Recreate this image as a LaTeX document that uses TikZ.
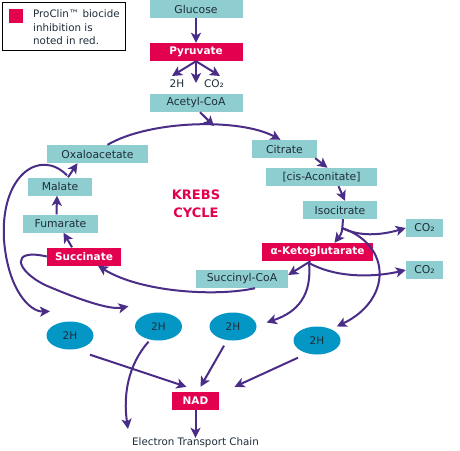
\documentclass[tikz,border=0pt]{standalone}
\usepackage{fontspec}
\setmainfont{DejaVu Sans}
\usetikzlibrary{arrows.meta,shapes.geometric}
\definecolor{tealbox}{HTML}{8ECED1}
\definecolor{redbox}{HTML}{E2004F}
\definecolor{bluell}{HTML}{0497C5}
\definecolor{arrowc}{HTML}{4A2D87}
\definecolor{boxtext}{HTML}{1E2D3A}
\begin{document}
\begin{tikzpicture}[x=1pt,y=-1pt,
  tbox/.style={rectangle,fill=tealbox,text=boxtext,inner sep=0pt,minimum height=18pt,font=\fontsize{10.8}{12}\selectfont},
  rbox/.style={rectangle,fill=redbox,text=white,inner sep=0pt,minimum height=18pt,font=\fontsize{10.5}{12}\selectfont\bfseries},
  hh/.style={ellipse,fill=bluell,text=boxtext,inner sep=0pt,minimum width=47pt,minimum height=28pt,font=\fontsize{10.5}{11}\selectfont},
  lbl/.style={text=boxtext,inner sep=0pt,font=\fontsize{10.5}{11}\selectfont},
  arr/.style={draw=arrowc,line width=2pt,-{Stealth[length=10pt,width=10pt,inset=2.5pt]}}]
\useasboundingbox (0,0) rectangle (460,450);
\fill[white] (0,0) rectangle (460,450);
% legend
\node[draw=black,line width=0.8pt,minimum width=123pt,minimum height=48pt,inner sep=0pt] (leg) at (63.5,26) {};
\node[fill=redbox,minimum size=14pt,inner sep=0pt] (legsq) at (16,16) {};
\node[anchor=north west,align=left,inner sep=0pt,text=boxtext,font=\fontsize{10.3}{13.5}\selectfont] (legtxt) at (33,9.5) {ProClin™ biocide\\inhibition is\\noted in red.};
% boxes
\node[tbox,minimum width=93pt] (glu) at (196,9) {Glucose};
\node[rbox,minimum width=93pt] (pyr) at (196,52) {Pyruvate};
\node[lbl] (h2a) at (177,84) {2H};
\node[lbl] (co2p) at (214,84) {CO₂};
\node[tbox,minimum width=93pt] (acc) at (196,103) {Acetyl-CoA};
\node[tbox,minimum width=101pt] (oxa) at (97.5,154) {Oxaloacetate};
\node[tbox,minimum width=65pt] (cit) at (284.5,149) {Citrate};
\node[tbox,minimum width=111pt] (cis) at (321.5,177) {[cis-Aconitate]};
\node[tbox,minimum width=74pt] (iso) at (340,210) {Isocitrate};
\node[tbox,minimum width=37pt] (co2a) at (424.5,228) {CO₂};
\node[rbox,minimum width=111pt] (akg) at (317.5,252) {α-Ketoglutarate};
\node[tbox,minimum width=37pt] (co2b) at (424.5,270) {CO₂};
\node[tbox,minimum width=92pt] (succoa) at (242,279) {Succinyl-CoA};
\node[rbox,minimum width=74pt] (succ) at (84,256.5) {Succinate};
\node[tbox,minimum width=75pt] (fum) at (60.5,223.5) {Fumarate};
\node[tbox,minimum width=64pt] (mal) at (60,186.5) {Malate};
\node[text=redbox,font=\fontsize{13}{17.5}\selectfont\bfseries,align=center,inner sep=0pt] (krebs) at (196,204) {KREBS\\CYCLE};
\node[hh] (h1) at (70,335.5) {2H};
\node[hh] (h2) at (158.5,326.5) {2H};
\node[hh] (h3) at (233,326.5) {2H};
\node[hh] (h4) at (317,340.5) {2H};
\node[rbox,minimum width=47pt] (nad) at (195.5,401) {NAD};
\node[text=boxtext,inner sep=0pt,font=\fontsize{10.3}{11}\selectfont] (etc) at (195.5,443) {Electron Transport Chain};
% free ends
\coordinate (p1) at (172,76);
\coordinate (p2) at (196,83);
\coordinate (p3) at (220,76);
\coordinate (arcpt) at (214,126);
\coordinate (isob) at (342,228);
\coordinate (akgb) at (309,263);
\coordinate (etcl) at (128,429);
% connectors
\draw[arr] (glu) -- (pyr);
\draw[arr] (pyr.south) -- (p1);
\draw[arr] (pyr.south) -- (p2);
\draw[arr] (pyr.south) -- (p3);
\draw[arr] ([xshift=4pt]acc.south) -- (arcpt);
\draw[arr] ([xshift=10pt]oxa.north) .. controls (150,120) and (240,118) .. ([xshift=-4pt]cit.north);
\draw[arr] ([xshift=-2pt]cit.south east) -- ([xshift=6pt]cis.north);
\draw[arr] ([xshift=17pt]cis.south) -- ([xshift=5pt]iso.north);
\draw[arr] ([xshift=3pt]iso.south) .. controls (342,233) .. ([xshift=17pt]akg.north);
\draw[arr] (isob) .. controls (362,238) and (385,234) .. (co2a.west);
\draw[arr] (isob) .. controls (392,245) and (392,300) .. ([xshift=3pt,yshift=4pt]h4.north east);
\draw[arr] ([xshift=-7pt]akg.south) -- ([yshift=4pt]succoa.east);
\draw[arr] (akgb) .. controls (340,280) and (380,276) .. (co2b.west);
\draw[arr] (akgb) .. controls (312,295) and (298,312) .. ([xshift=10pt,yshift=4pt]h3.east);
\draw[arr] ([xshift=13pt]succoa.south) .. controls (215,297) and (140,292) .. ([xshift=14pt]succ.south);
\draw[arr] ([xshift=-12pt]succ.north) -- ([xshift=3pt]fum.south);
\draw[arr] ([xshift=-4pt]fum.north) -- ([xshift=-3pt]mal.south);
\draw[arr] ([xshift=8pt]mal.north) -- ([xshift=-20pt]oxa.south);
\draw[arr] ([xshift=7pt,yshift=2pt]mal.north) .. controls (40,148) and (0,175) .. (4,240) .. controls (8,290) and (30,312) .. ([xshift=-20pt,yshift=10pt]h1.north);
\draw[arr] (succ.west) .. controls (10,248) and (15,270) .. (45,285) .. controls (80,300) and (110,310) .. ([xshift=-30pt,yshift=6pt]h2.north);
\draw[arr] ([xshift=-10pt,yshift=-1pt]h2.south) .. controls (128,365) and (123,395) .. (etcl);
\draw[arr] ([xshift=20pt,yshift=-5pt]h1.south) -- ([xshift=-9pt,yshift=5pt]nad.north);
\draw[arr] ([xshift=-9pt,yshift=-5pt]h3.south) -- ([xshift=5pt,yshift=5pt]nad.north);
\draw[arr] ([xshift=-19pt,yshift=-3pt]h4.south) -- ([xshift=39pt,yshift=5pt]nad.north);
\draw[arr] (nad) -- (etc);
\end{tikzpicture}
\end{document}
